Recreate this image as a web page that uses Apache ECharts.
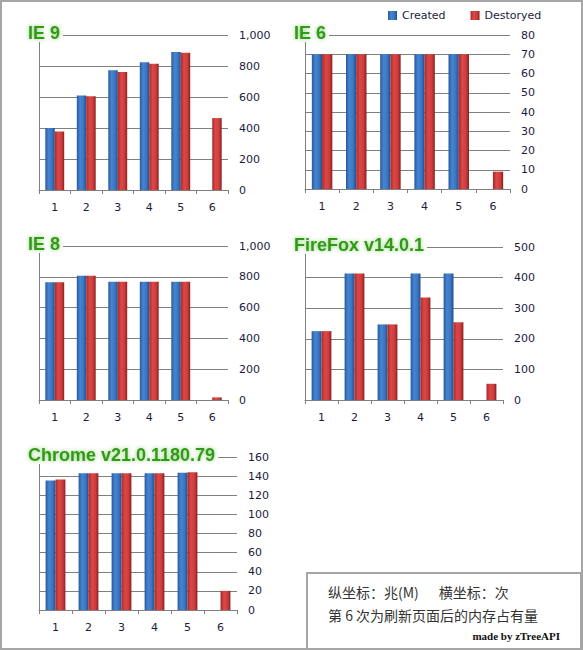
<!DOCTYPE html>
<html>
<head>
<meta charset="utf-8">
<script src="https://cdn.jsdelivr.net/npm/echarts@6/dist/echarts.min.js"></script>
<style>
    html, body { margin: 0; padding: 0; background: #fff; }
    #frame { position: absolute; left: 0; top: 0; width: 579px; height: 646px; border: 2px solid #a6a6a6; }
    #chart { position: absolute; left: 0; top: 0; width: 583px; height: 650px; }
    #note { position: absolute; left: 306px; top: 572px; width: 272px; height: 74px; border: 2px solid #a6a6a6; background: #fff;
            font-family: "Noto Sans CJK SC", sans-serif; color: #333; font-size: 14px; }
    #note .l1 { position: absolute; left: 20px; top: 8px; white-space: pre; }
    #note .l2 { position: absolute; left: 20px; top: 31px; white-space: pre; }
    #note .l3 { position: absolute; right: 20px; top: 56px; font-family: "Liberation Serif", serif; font-weight: bold; font-size: 11px; color: #111; }
</style>
</head>
<body>
<div id="frame"></div>
<div id="chart"></div>
<div id="note">
    <div class="l1">纵坐标：兆(M)<span style="margin-left:20px">横坐标：次</span></div>
    <div class="l2">第 6 次为刷新页面后的内存占有量</div>
    <div class="l3">made by zTreeAPI</div>
</div>
<script>
// 数据
var categories = ['1', '2', '3', '4', '5', '6'];
var seriesNames = ['Created', 'Destoryed'];
var titles = ['IE 9', 'IE 6', 'IE 8', 'FireFox v14.0.1', 'Chrome v21.0.1180.79'];

var ie9Created = [400, 610, 773, 825, 890, null];
var ie9Destoryed = [378, 605, 762, 814, 886, 464];
var ie6Created = [70, 70, 70, 70, 70, null];
var ie6Destoryed = [70, 70, 70, 70, 70, 9];
var ie8Created = [764, 807, 768, 768, 768, null];
var ie8Destoryed = [764, 807, 768, 768, 768, 17];
var ffCreated = [225, 413, 247, 413, 413, null];
var ffDestoryed = [225, 413, 247, 335, 254, 53];
var chromeCreated = [135.5, 143, 143, 143, 143.5, null];
var chromeDestoryed = [136.5, 143, 143, 143, 144, 20];

var axisMax = [1000, 80, 1000, 500, 160];
var axisInterval = [200, 10, 200, 100, 20];

var createdData = [ie9Created, ie6Created, ie8Created, ffCreated, chromeCreated];
var destoryedData = [ie9Destoryed, ie6Destoryed, ie8Destoryed, ffDestoryed, chromeDestoryed];

// 布局
var layout = [
    {left: 39, top: 35, width: 189, height: 155},
    {left: 305, top: 35, width: 205, height: 154},
    {left: 39, top: 246, width: 189, height: 154},
    {left: 305, top: 247, width: 198, height: 153},
    {left: 39, top: 457, width: 198, height: 153}
];

var lineColor = '#808080';
var labelColor = '#1c1c40';
var blue = {
    type: 'linear', x: 0, y: 0, x2: 1, y2: 0,
    colorStops: [
        {offset: 0, color: '#2a5a9c'},
        {offset: 0.35, color: '#4585d2'},
        {offset: 0.7, color: '#3b76c2'},
        {offset: 1, color: '#234d88'}
    ]
};
var red = {
    type: 'linear', x: 0, y: 0, x2: 1, y2: 0,
    colorStops: [
        {offset: 0, color: '#a52a2a'},
        {offset: 0.35, color: '#dc4747'},
        {offset: 0.7, color: '#cf3d3d'},
        {offset: 1, color: '#8a2020'}
    ]
};

var grid = [], xAxis = [], yAxis = [], series = [], title = [];
for (var i = 0; i < layout.length; i++) {
    var g = layout[i];
    grid.push({left: g.left, top: g.top, width: g.width, height: g.height});
    title.push({
        text: titles[i],
        left: g.left - 14,
        top: g.top - 11,
        padding: [0, 3],
        backgroundColor: '#fff',
        textStyle: {
            fontFamily: 'Liberation Sans',
            fontSize: 18,
            fontWeight: 'bold',
            color: '#2f9a14',
            textShadowColor: 'rgba(130,200,100,0.9)',
            textShadowBlur: 4
        }
    });
    xAxis.push({
        type: 'category',
        gridIndex: i,
        data: categories,
        axisLine: {lineStyle: {color: lineColor}},
        axisTick: {show: true, length: 4, lineStyle: {color: lineColor}},
        axisLabel: {margin: 12, color: labelColor, fontFamily: 'DejaVu Sans', fontSize: 11}
    });
    // 左侧竖线
    yAxis.push({
        type: 'value',
        gridIndex: i,
        position: 'left',
        min: 0,
        max: axisMax[i],
        interval: axisInterval[i],
        axisLine: {show: true, lineStyle: {color: lineColor}},
        axisTick: {show: false},
        axisLabel: {show: false},
        splitLine: {show: false}
    });
    // 右侧刻度
    yAxis.push({
        type: 'value',
        gridIndex: i,
        position: 'right',
        min: 0,
        max: axisMax[i],
        interval: axisInterval[i],
        axisLine: {show: false},
        axisTick: {show: false},
        axisLabel: {margin: 11, color: labelColor, fontFamily: 'DejaVu Sans', fontSize: 11},
        splitLine: {show: true, lineStyle: {color: lineColor, width: 1}}
    });
    series.push({
        name: seriesNames[0],
        type: 'bar',
        xAxisIndex: i,
        yAxisIndex: i * 2 + 1,
        data: createdData[i],
        barGap: '0%',
        barCategoryGap: '40%',
        itemStyle: {color: blue},
        animation: false
    });
    series.push({
        name: seriesNames[1],
        type: 'bar',
        xAxisIndex: i,
        yAxisIndex: i * 2 + 1,
        data: destoryedData[i],
        barGap: '0%',
        barCategoryGap: '40%',
        itemStyle: {color: red},
        animation: false
    });
}

var chart = echarts.init(document.getElementById('chart'), null, {renderer: 'svg'});
var option = {
    animation: false,
    title: title,
    legend: {
        data: seriesNames,
        icon: 'rect',
        left: 388,
        top: 10,
        padding: 0,
        itemWidth: 9,
        itemHeight: 9,
        itemGap: 25,
        textStyle: {fontFamily: 'DejaVu Sans', fontSize: 11, color: '#1c1c40'}
    },
    grid: grid,
    xAxis: xAxis,
    yAxis: yAxis,
    series: series
};
chart.setOption(option);
window.onresize = chart.resize;
</script>
</body>
</html>
